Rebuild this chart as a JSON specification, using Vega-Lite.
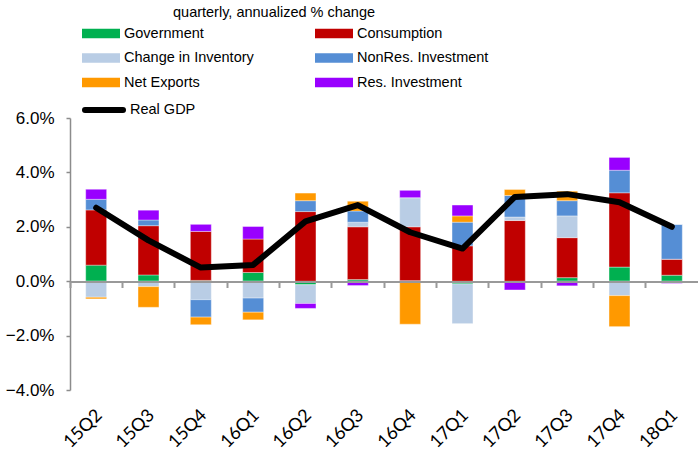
{
  "$schema": "https://vega.github.io/schema/vega-lite/v6.json",
  "width": 628,
  "height": 272,
  "autosize": "none",
  "padding": {"left": 70, "top": 118, "right": 0, "bottom": 63},
  "background": "white",
  "config": {"view": {"stroke": null}},
  "title": {
    "text": "quarterly, annualized % change", "anchor": "start", "frame": "group", "dx": 103, "offset": 0, "dy": -4,
    "font": "Liberation Sans", "fontSize": 14.5, "fontWeight": "normal", "color": "black"
  },
  "datasets": {
    "comps": [
      {"comp": "Government", "k": 1},
      {"comp": "Consumption", "k": 2},
      {"comp": "Change in Inventory", "k": 3},
      {"comp": "NonRes. Investment", "k": 4},
      {"comp": "Net Exports", "k": 5},
      {"comp": "Res. Investment", "k": 6}
    ],
    "contrib": [
      {"q": "15Q2", "comp": "Government", "v": 0.59},
      {"q": "15Q2", "comp": "Consumption", "v": 2.03},
      {"q": "15Q2", "comp": "Change in Inventory", "v": -0.59},
      {"q": "15Q2", "comp": "NonRes. Investment", "v": 0.39},
      {"q": "15Q2", "comp": "Net Exports", "v": -0.06},
      {"q": "15Q2", "comp": "Res. Investment", "v": 0.37},
      {"q": "15Q3", "comp": "Government", "v": 0.23},
      {"q": "15Q3", "comp": "Consumption", "v": 1.81},
      {"q": "15Q3", "comp": "Change in Inventory", "v": -0.2},
      {"q": "15Q3", "comp": "NonRes. Investment", "v": 0.21},
      {"q": "15Q3", "comp": "Net Exports", "v": -0.76},
      {"q": "15Q3", "comp": "Res. Investment", "v": 0.36},
      {"q": "15Q4", "comp": "Government", "v": 0.03},
      {"q": "15Q4", "comp": "Consumption", "v": 1.8},
      {"q": "15Q4", "comp": "Change in Inventory", "v": -0.68},
      {"q": "15Q4", "comp": "NonRes. Investment", "v": -0.64},
      {"q": "15Q4", "comp": "Net Exports", "v": -0.28},
      {"q": "15Q4", "comp": "Res. Investment", "v": 0.26},
      {"q": "16Q1", "comp": "Government", "v": 0.32},
      {"q": "16Q1", "comp": "Consumption", "v": 1.23},
      {"q": "16Q1", "comp": "Change in Inventory", "v": -0.62},
      {"q": "16Q1", "comp": "NonRes. Investment", "v": -0.52},
      {"q": "16Q1", "comp": "Net Exports", "v": -0.28},
      {"q": "16Q1", "comp": "Res. Investment", "v": 0.46},
      {"q": "16Q2", "comp": "Government", "v": -0.13},
      {"q": "16Q2", "comp": "Consumption", "v": 2.56},
      {"q": "16Q2", "comp": "Change in Inventory", "v": -0.69},
      {"q": "16Q2", "comp": "NonRes. Investment", "v": 0.4},
      {"q": "16Q2", "comp": "Net Exports", "v": 0.28},
      {"q": "16Q2", "comp": "Res. Investment", "v": -0.18},
      {"q": "16Q3", "comp": "Government", "v": 0.06},
      {"q": "16Q3", "comp": "Consumption", "v": 1.94},
      {"q": "16Q3", "comp": "Change in Inventory", "v": 0.17},
      {"q": "16Q3", "comp": "NonRes. Investment", "v": 0.41},
      {"q": "16Q3", "comp": "Net Exports", "v": 0.36},
      {"q": "16Q3", "comp": "Res. Investment", "v": -0.16},
      {"q": "16Q4", "comp": "Government", "v": 0.02},
      {"q": "16Q4", "comp": "Consumption", "v": 1.98},
      {"q": "16Q4", "comp": "Change in Inventory", "v": 1.07},
      {"q": "16Q4", "comp": "NonRes. Investment", "v": 0.0},
      {"q": "16Q4", "comp": "Net Exports", "v": -1.58},
      {"q": "16Q4", "comp": "Res. Investment", "v": 0.27},
      {"q": "17Q1", "comp": "Government", "v": -0.1},
      {"q": "17Q1", "comp": "Consumption", "v": 1.3},
      {"q": "17Q1", "comp": "Change in Inventory", "v": -1.46},
      {"q": "17Q1", "comp": "NonRes. Investment", "v": 0.87},
      {"q": "17Q1", "comp": "Net Exports", "v": 0.23},
      {"q": "17Q1", "comp": "Res. Investment", "v": 0.4},
      {"q": "17Q2", "comp": "Government", "v": -0.03},
      {"q": "17Q2", "comp": "Consumption", "v": 2.23},
      {"q": "17Q2", "comp": "Change in Inventory", "v": 0.13},
      {"q": "17Q2", "comp": "NonRes. Investment", "v": 0.79},
      {"q": "17Q2", "comp": "Net Exports", "v": 0.22},
      {"q": "17Q2", "comp": "Res. Investment", "v": -0.29},
      {"q": "17Q3", "comp": "Government", "v": 0.13},
      {"q": "17Q3", "comp": "Consumption", "v": 1.47},
      {"q": "17Q3", "comp": "Change in Inventory", "v": 0.8},
      {"q": "17Q3", "comp": "NonRes. Investment", "v": 0.56},
      {"q": "17Q3", "comp": "Net Exports", "v": 0.35},
      {"q": "17Q3", "comp": "Res. Investment", "v": -0.17},
      {"q": "17Q4", "comp": "Government", "v": 0.52},
      {"q": "17Q4", "comp": "Consumption", "v": 2.73},
      {"q": "17Q4", "comp": "Change in Inventory", "v": -0.53},
      {"q": "17Q4", "comp": "NonRes. Investment", "v": 0.83},
      {"q": "17Q4", "comp": "Net Exports", "v": -1.14},
      {"q": "17Q4", "comp": "Res. Investment", "v": 0.47},
      {"q": "18Q1", "comp": "Government", "v": 0.22},
      {"q": "18Q1", "comp": "Consumption", "v": 0.59},
      {"q": "18Q1", "comp": "Change in Inventory", "v": 0.0},
      {"q": "18Q1", "comp": "NonRes. Investment", "v": 1.28},
      {"q": "18Q1", "comp": "Net Exports", "v": 0.0},
      {"q": "18Q1", "comp": "Res. Investment", "v": -0.08}
    ],
    "gdp": [
      {"q": "15Q2", "series": "Real GDP", "v": 2.7},
      {"q": "15Q3", "series": "Real GDP", "v": 1.5},
      {"q": "15Q4", "series": "Real GDP", "v": 0.5},
      {"q": "16Q1", "series": "Real GDP", "v": 0.6},
      {"q": "16Q2", "series": "Real GDP", "v": 2.2},
      {"q": "16Q3", "series": "Real GDP", "v": 2.8},
      {"q": "16Q4", "series": "Real GDP", "v": 1.8},
      {"q": "17Q1", "series": "Real GDP", "v": 1.2},
      {"q": "17Q2", "series": "Real GDP", "v": 3.1},
      {"q": "17Q3", "series": "Real GDP", "v": 3.2},
      {"q": "17Q4", "series": "Real GDP", "v": 2.9},
      {"q": "18Q1", "series": "Real GDP", "v": 2.0}
    ]
  },
  "layer": [
    {
      "data": {"name": "contrib"},
      "transform": [
        {"lookup": "comp", "from": {"data": {"name": "comps"}, "key": "comp", "fields": ["k"]}}
      ],
      "mark": {"type": "bar", "width": {"band": 0.4}, "stroke": "white", "strokeWidth": 0.6, "strokeOpacity": 0.6},
      "encoding": {
        "x": {
          "field": "q", "type": "nominal", "sort": null,
          "scale": {"paddingInner": 0, "paddingOuter": 0},
          "axis": {
            "title": null, "orient": "bottom", "domain": false, "ticks": false,
            "labelAngle": -45, "labelFont": "Lato", "labelFontSize": 18, "labelColor": "black",
            "labelPadding": 16, "labelOffset": -3
          }
        },
        "y": {
          "field": "v", "type": "quantitative", "stack": "zero",
          "scale": {"domain": [-4, 6], "nice": false},
          "axis": {
            "title": null, "values": [-4, -2, 0, 2, 4, 6], "grid": false,
            "labelExpr": "format(datum.value, '.1f') + '%'",
            "labelFont": "Liberation Sans", "labelFontSize": 17, "labelColor": "black",
            "labelPadding": 12, "tickSize": 4, "tickColor": "#8c8c8c", "tickWidth": 1.5,
            "domainColor": "#8c8c8c", "domainWidth": 1.5
          }
        },
        "color": {
          "field": "comp", "type": "nominal",
          "scale": {
            "domain": ["Government", "Consumption", "Change in Inventory", "NonRes. Investment", "Net Exports", "Res. Investment"],
            "range": ["#00B050", "#C00000", "#B9CDE5", "#558ED5", "#FF9900", "#9900FF"]
          },
          "legend": {
            "orient": "none", "legendX": 21.5, "legendY": -94, "columns": 2, "direction": "horizontal",
            "columnPadding": 60, "rowPadding": 8.5, "padding": 0, "title": null,
            "symbolType": "M-2,-0.5H2V0.5H-2Z", "symbolSize": 361, "symbolStrokeWidth": 0,
            "labelFont": "Liberation Sans", "labelFontSize": 14.5, "labelColor": "black", "labelOffset": 13.5,
            "labelLimit": 300
          }
        },
        "order": {"field": "k", "type": "quantitative"}
      }
    },
    {
      "data": {"name": "gdp"},
      "mark": {"type": "line", "strokeWidth": 6, "strokeCap": "round", "strokeJoin": "round"},
      "encoding": {
        "x": {
          "field": "q", "type": "nominal", "sort": null,
          "axis": {
            "title": null, "orient": "bottom", "offset": -108.5, "labels": false,
            "domain": true, "domainColor": "#999999", "domainWidth": 2,
            "ticks": true, "tickSize": 6, "tickWidth": 2, "tickColor": "#999999", "bandPosition": 0,
            "zindex": 1
          }
        },
        "y": {
          "field": "v", "type": "quantitative",
          "axis": {
            "title": null, "values": [-4, -2, 0, 2, 4, 6], "grid": false,
            "labelExpr": "format(datum.value, '.1f') + '%'",
            "labelFont": "Liberation Sans", "labelFontSize": 17, "labelColor": "black",
            "labelPadding": 12, "tickSize": 4, "tickColor": "#8c8c8c", "tickWidth": 1.5,
            "domainColor": "#8c8c8c", "domainWidth": 1.5
          }
        },
        "stroke": {
          "field": "series", "type": "nominal",
          "scale": {"range": ["black"]},
          "legend": {
            "orient": "none", "legendX": 21.5, "legendY": -20.5, "padding": 0, "title": null,
            "symbolType": "M-2,0H2", "symbolSize": 361, "symbolStrokeWidth": 6,
            "labelFont": "Liberation Sans", "labelFontSize": 14.5, "labelColor": "black", "labelOffset": 13.5,
            "encode": {"symbols": {"update": {"strokeCap": {"value": "round"}}}}
          }
        }
      }
    }
  ],
  "resolve": {"axis": {"x": "independent"}}
}
